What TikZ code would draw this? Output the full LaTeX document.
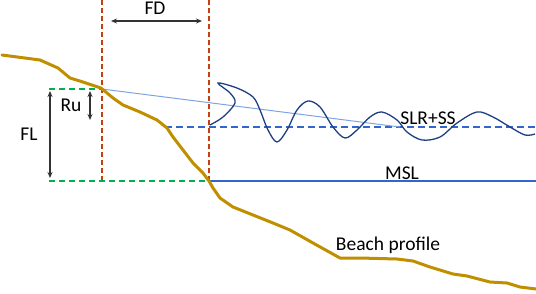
\documentclass[tikz,border=0pt]{standalone}
\usepackage{fontspec}
\setmainfont{Carlito}
\usetikzlibrary{arrows.meta}

\definecolor{limitred}{HTML}{C5400C}
\definecolor{levelgreen}{HTML}{00B050}
\definecolor{sandbrown}{HTML}{BF8F00}
\definecolor{seablue}{HTML}{3366CC}
\definecolor{waveblue}{HTML}{1F3F85}
\definecolor{runupblue}{HTML}{7FA3E0}

\begin{document}
\begin{tikzpicture}[
    x=1pt,
    y=-1pt,
    >={Stealth[length=6pt,width=5pt]},
    limit/.style={
        draw=limitred,
        line width=1.6pt,
        dash pattern=on 5pt off 3pt
    },
    level/.style={
        draw=levelgreen,
        line width=1.6pt,
        dash pattern=on 6pt off 4pt
    },
    measure/.style={
        draw=black!80,
        line width=1.3pt,
        <->
    },
    label/.style={
        font=\fontsize{19.5}{22}\selectfont,
        anchor=base,
        inner sep=0pt
    }
]
    \useasboundingbox (0,0) rectangle (536,293);

    % Flood limits
    \coordinate (limA) at (102,0);
    \coordinate (limB) at (209,0);
    \coordinate (limAbot) at (102,181);
    \coordinate (limBbot) at (209,181);
    \draw[limit] (limA) -- (limAbot);
    \draw[limit] (limB) -- (limBbot);

    % Flood levels
    \coordinate (topL) at (49,89);
    \coordinate (topR) at (102,89);
    \coordinate (botL) at (49,181);
    \draw[level] (topL) -- (topR);
    \draw[level] (botL) -- (limBbot);

    % Sea levels
    \coordinate (slrL) at (165,127);
    \coordinate (slrR) at (536,127);
    \coordinate (mslR) at (536,181);
    \draw[seablue, line width=2pt, dash pattern=on 7pt off 4pt] (slrL) -- (slrR);
    \draw[seablue, line width=1.8pt] (limBbot) -- (mslR);

    % Run-up line
    \coordinate (runEnd) at (400,127);
    \draw[runupblue, line width=1pt] (topR) -- (runEnd);

    % Waves
    \draw[waveblue, line width=1.3pt] plot[smooth, tension=0.55] coordinates {
        (210,125) (223,117) (235,103) (230,93) (218,83) (237,88)
        (253,97) (260,110) (268,130) (277,142) (287,130) (297,110)
        (308,101) (320,107) (333,127) (345,138) (357,130) (370,117)
        (382,112) (397,120) (407,132) (422,140) (440,137) (457,123)
        (477,112) (493,117) (510,127) (525,135) (535,134)};

    % Beach profile
    \draw[sandbrown, line width=3pt, line join=round, line cap=round]
        (2,55) -- (40,60) -- (58,68) -- (70,78) -- (83,82) -- (101,88)
        -- (113,98) -- (123,105) -- (140,112) -- (157,120) -- (167,128)
        -- (173,137) -- (183,150) -- (193,163) -- (203,173) -- (209,181)
        -- (213,188) -- (220,198) -- (233,207) -- (253,215) -- (273,223)
        -- (290,230) -- (313,243) -- (340,258) -- (360,258) -- (397,259)
        -- (413,261) -- (430,267) -- (453,274) -- (467,276) -- (490,282)
        -- (507,283) -- (520,287) -- (536,289);

    % Arrows
    \coordinate (fdL) at (111,21);
    \coordinate (fdR) at (202,21);
    \coordinate (flT) at (50,91);
    \coordinate (flB) at (50,178);
    \coordinate (ruT) at (90,91);
    \coordinate (ruB) at (90,120);
    \draw[measure] (fdL) -- (fdR);
    \draw[measure] (flT) -- (flB);
    \draw[measure] (ruT) -- (ruB);

    % Labels
    \node[label] (fd) at (155,14.5) {FD};
    \node[label] (fl) at (29,140) {FL};
    \node[label] (ru) at (71,111.5) {Ru};
    \node[label] (slr) at (428,124.5) {SLR+SS};
    \node[label] (msl) at (402,179) {MSL};
    \node[label] (beach) at (388,250) {Beach profile};

\end{tikzpicture}
\end{document}
